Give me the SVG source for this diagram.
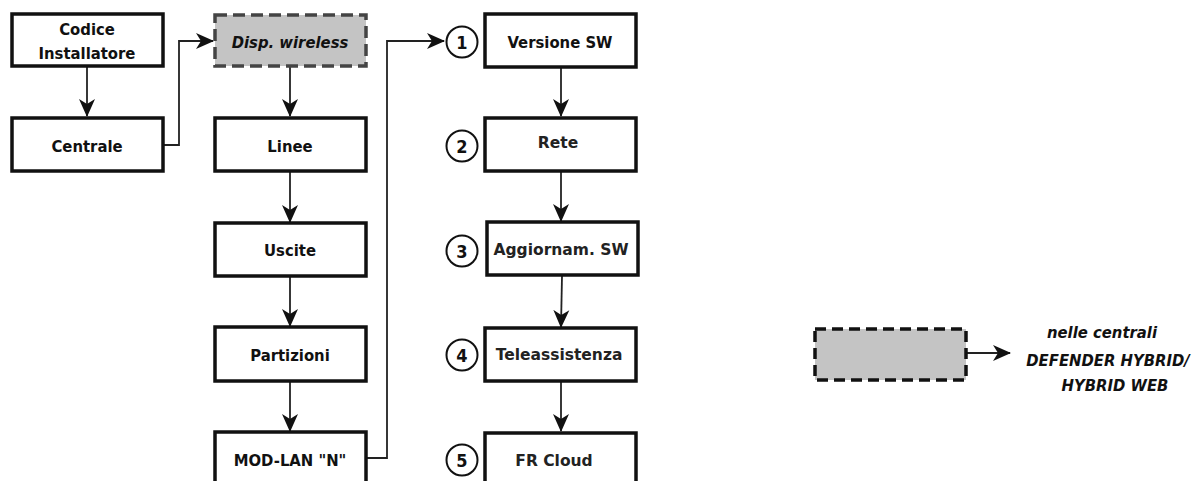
<svg xmlns="http://www.w3.org/2000/svg" width="1192" height="481" viewBox="0 0 1192 481">
<style>
.box{fill:#fff;stroke:#111;stroke-width:3.5}
.dash{fill:#c4c4c4;stroke:#444;stroke-width:3.5;stroke-dasharray:12 6}
.dashk{fill:#c4c4c4;stroke:#111;stroke-width:3.5;stroke-dasharray:11 6}
.din{font-family:"DejaVu Sans Condensed","DejaVu Sans",sans-serif;font-stretch:condensed;font-weight:bold;font-size:16.5px;fill:#111;text-anchor:middle}
.num{font-size:18px}
.ver{font-family:"DejaVu Sans",Verdana,sans-serif;font-weight:bold;font-size:15.5px;fill:#222;text-anchor:middle}
.ital{font-style:italic}
.circ{fill:#fff;stroke:#111;stroke-width:2}
.conn{fill:none;stroke:#222;stroke-width:1.8}
</style>
<defs>
<marker id="ah" markerUnits="userSpaceOnUse" markerWidth="18" markerHeight="18" viewBox="0 0 18 18" refX="17" refY="9" orient="auto">
<path d="M0,1 L18,9 L0,17 L5,9 z" fill="#111"/>
</marker>
</defs>
<g id="connectors">
<line class="conn" x1="87" y1="67" x2="87" y2="116" marker-end="url(#ah)"/>
<polyline class="conn" points="164,145 179,145 179,41 213,41" marker-end="url(#ah)"/>
<line class="conn" x1="290" y1="67" x2="290" y2="116" marker-end="url(#ah)"/>
<line class="conn" x1="290" y1="172" x2="290" y2="222" marker-end="url(#ah)"/>
<line class="conn" x1="290" y1="276" x2="290" y2="326" marker-end="url(#ah)"/>
<line class="conn" x1="290" y1="381" x2="290" y2="431" marker-end="url(#ah)"/>
<polyline class="conn" points="367,458 387,458 387,41 444,41" marker-end="url(#ah)"/>
<line class="conn" x1="561" y1="67" x2="561" y2="116" marker-end="url(#ah)"/>
<line class="conn" x1="561" y1="172" x2="561" y2="221" marker-end="url(#ah)"/>
<line class="conn" x1="562" y1="276" x2="561" y2="327" marker-end="url(#ah)"/>
<line class="conn" x1="561" y1="381" x2="561" y2="431" marker-end="url(#ah)"/>
<line class="conn" x1="967" y1="353" x2="1010" y2="353" marker-end="url(#ah)"/>
</g>
<g id="codice">
<rect class="box" x="12" y="14" width="151" height="52"/>
<text class="din" x="87" y="35">Codice</text>
<text class="din" x="87" y="59">Installatore</text>
</g>
<g id="centrale">
<rect class="box" x="12" y="118" width="151" height="53"/>
<text class="din" x="87" y="152">Centrale</text>
</g>
<g id="wireless">
<rect class="dash" x="215" y="15" width="151" height="51"/>
<text class="din ital" x="290" y="48">Disp. wireless</text>
</g>
<g id="linee">
<rect class="box" x="215" y="118" width="151" height="53"/>
<text class="din" x="290" y="152">Linee</text>
</g>
<g id="uscite">
<rect class="box" x="215" y="223" width="151" height="53"/>
<text class="din" x="290" y="256">Uscite</text>
</g>
<g id="partizioni">
<rect class="box" x="215" y="327" width="151" height="54"/>
<text class="din" x="290" y="361">Partizioni</text>
</g>
<g id="modlan">
<rect class="box" x="215" y="432" width="151" height="60"/>
<text class="din" x="290" y="466">MOD-LAN "N"</text>
</g>
<g id="versione">
<circle class="circ" cx="462" cy="42" r="15.5"/>
<text class="din num" x="462" y="48.5">1</text>
<rect class="box" x="485" y="14" width="151" height="53"/>
<text class="din" x="560" y="48">Versione SW</text>
</g>
<g id="rete">
<circle class="circ" cx="462" cy="146" r="15.5"/>
<text class="din num" x="462" y="152.5">2</text>
<rect class="box" x="485" y="118" width="151" height="53"/>
<text class="ver" x="558" y="148">Rete</text>
</g>
<g id="aggiornam">
<circle class="circ" cx="462" cy="251" r="15.5"/>
<text class="din num" x="462" y="257.5">3</text>
<rect class="box" x="487" y="222" width="151" height="53"/>
<text class="ver" x="561" y="255">Aggiornam. SW</text>
</g>
<g id="teleassistenza">
<circle class="circ" cx="462" cy="355" r="15.5"/>
<text class="din num" x="462" y="361.5">4</text>
<rect class="box" x="485" y="328" width="151" height="53"/>
<text class="ver" x="559" y="360">Teleassistenza</text>
</g>
<g id="frcloud">
<circle class="circ" cx="462" cy="460" r="15.5"/>
<text class="din num" x="462" y="466.5">5</text>
<rect class="box" x="485" y="433" width="151" height="60"/>
<text class="ver" x="554" y="466">FR Cloud</text>
</g>
<g id="legend">
<rect class="dashk" x="815" y="329" width="151" height="51"/>
<text class="din ital" x="1102" y="338">nelle centrali</text>
<text class="din ital" x="1108" y="366">DEFENDER HYBRID/</text>
<text class="din ital" x="1115" y="391">HYBRID WEB</text>
</g>
</svg>
